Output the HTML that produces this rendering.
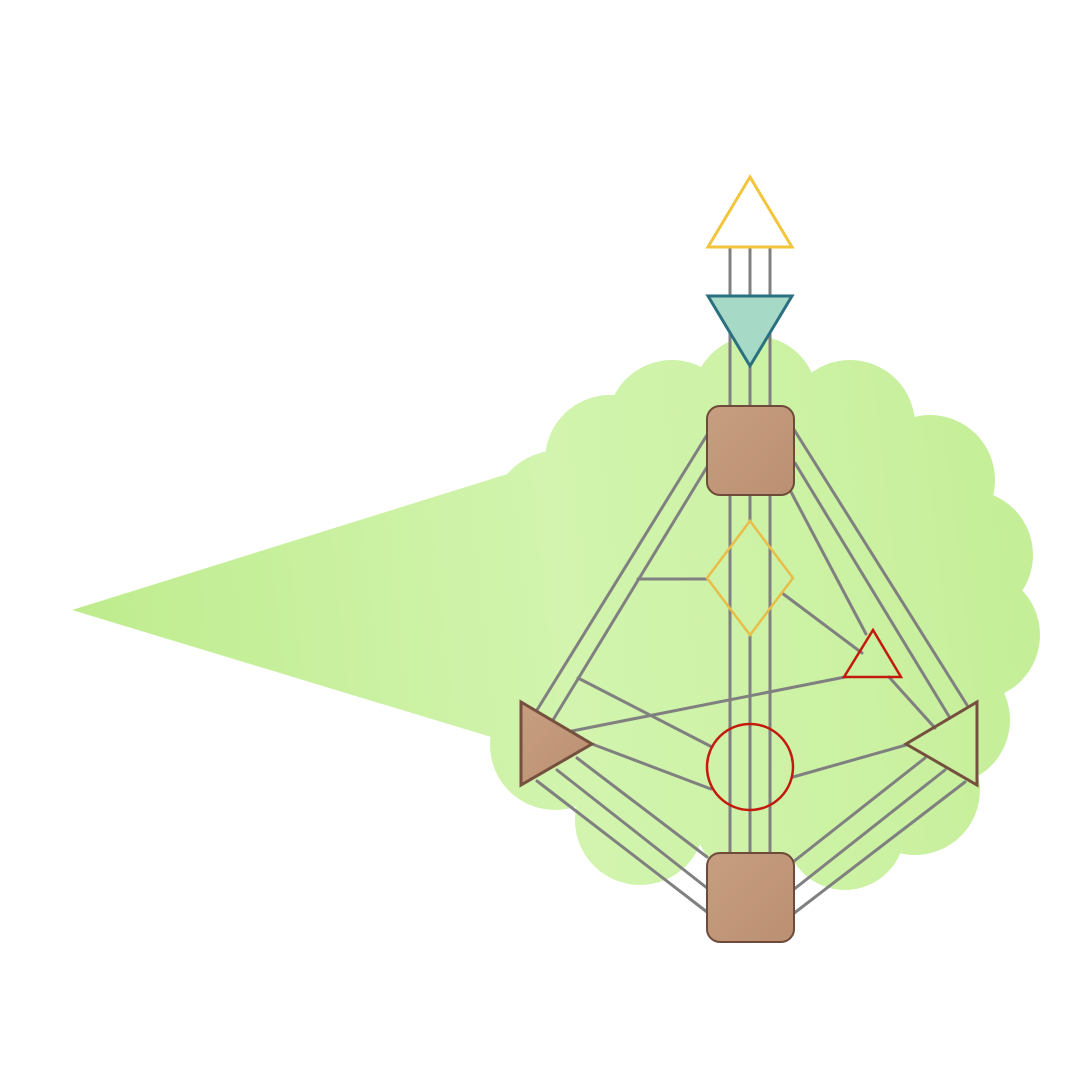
<!DOCTYPE html>
<html><head><meta charset="utf-8"><style>html,body{margin:0;padding:0;background:#fff}svg{display:block}</style></head>
<body>
<svg width="1080" height="1080" viewBox="0 0 1080 1080" xmlns="http://www.w3.org/2000/svg">
<defs>
<linearGradient id="g" gradientUnits="userSpaceOnUse" x1="72" y1="610" x2="1040" y2="500">
<stop offset="0" stop-color="#bfec8e"/><stop offset="0.5" stop-color="#d2f4ae"/><stop offset="0.8" stop-color="#cbf1a2"/><stop offset="1" stop-color="#c4ee96"/>
</linearGradient>
<linearGradient id="br" x1="0" y1="0" x2="1" y2="1">
<stop offset="0" stop-color="#c89e80"/><stop offset="1" stop-color="#bb9072"/>
</linearGradient>
</defs>
<g fill="url(#g)">
<polygon points="72,610 600,445 600,770"/>
<circle cx="762" cy="615" r="235"/>
<circle cx="672" cy="425" r="65"/>
<circle cx="755" cy="398" r="62"/>
<circle cx="850" cy="425" r="65"/>
<circle cx="930" cy="480" r="65"/>
<circle cx="968" cy="555" r="65"/>
<circle cx="975" cy="635" r="65"/>
<circle cx="945" cy="720" r="65"/>
<circle cx="915" cy="790" r="65"/>
<circle cx="845" cy="830" r="60"/>
<circle cx="755" cy="820" r="60"/>
<circle cx="640" cy="820" r="65"/>
<circle cx="555" cy="745" r="65"/>
<circle cx="560" cy="520" r="70"/>
<circle cx="610" cy="460" r="65"/>
</g>
<g stroke="#808080" stroke-width="3" fill="none" stroke-linecap="round">
<line x1="730" y1="247" x2="730" y2="300"/><line x1="750" y1="247" x2="750" y2="300"/><line x1="770" y1="247" x2="770" y2="300"/>
<line x1="730" y1="330" x2="730" y2="406"/><line x1="750" y1="350" x2="750" y2="406"/><line x1="770" y1="330" x2="770" y2="406"/>
<line x1="730" y1="495" x2="730" y2="853"/><line x1="770" y1="495" x2="770" y2="853"/>
<line x1="750" y1="495" x2="750" y2="521"/><line x1="750" y1="635" x2="750" y2="853"/>
<line x1="707" y1="435" x2="537" y2="710"/><line x1="707" y1="467" x2="553" y2="720"/>
<line x1="793" y1="428" x2="967" y2="705"/><line x1="795" y1="463" x2="950" y2="718"/><line x1="790" y1="490" x2="866" y2="634"/>
<line x1="638" y1="579" x2="707" y2="579"/>
<line x1="782" y1="593" x2="862" y2="653"/>
<line x1="889" y1="677" x2="935" y2="728"/>
<line x1="845" y1="677" x2="572" y2="731"/>
<line x1="578" y1="678" x2="712" y2="747"/>
<line x1="592" y1="744" x2="711" y2="789"/>
<line x1="577" y1="758" x2="707" y2="857"/><line x1="557" y1="770" x2="707" y2="888"/><line x1="537" y1="781" x2="707" y2="912"/>
<line x1="906" y1="745" x2="793" y2="777"/>
<line x1="925" y1="758" x2="793" y2="862"/><line x1="945" y1="770" x2="793" y2="890"/><line x1="965" y1="782" x2="793" y2="914"/>
</g>
<polygon points="750,177 708,247 792,247" fill="#fff" stroke="#f2c53d" stroke-width="3"/>
<polygon points="708,296 792,296 750,366" fill="#a6d9c6" stroke="#2b7080" stroke-width="3"/>
<rect x="707" y="406" width="87" height="89" rx="13" fill="url(#br)" stroke="#6e4a3a" stroke-width="2"/>
<polygon points="750,521 793,578 750,635 707,578" fill="none" stroke="#e8be48" stroke-width="2.5"/>
<polygon points="873,630 844,677 901,677" fill="none" stroke="#c41a0e" stroke-width="2.5"/>
<polygon points="521,702 521,785 592,744" fill="url(#br)" stroke="#75503f" stroke-width="3"/>
<polygon points="977,702 977,785 906,744" fill="none" stroke="#75503f" stroke-width="3"/>
<circle cx="750" cy="767" r="43" fill="none" stroke="#c41a0e" stroke-width="2.5"/>
<rect x="707" y="853" width="87" height="89" rx="13" fill="url(#br)" stroke="#6e4a3a" stroke-width="2"/>
</svg>
</body></html>
